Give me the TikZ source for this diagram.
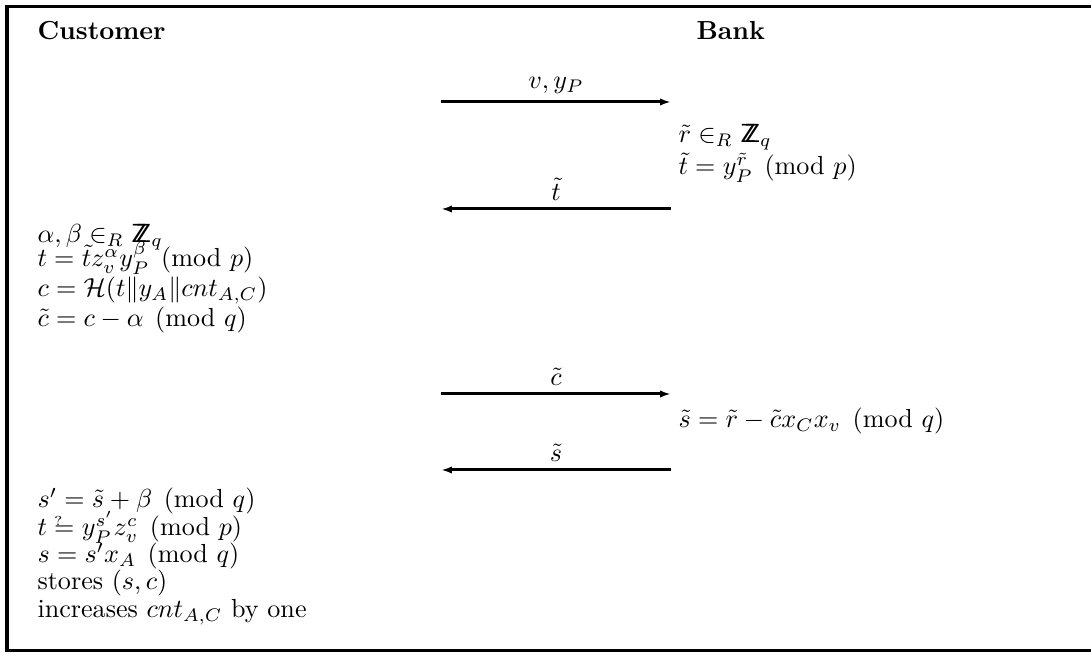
\documentclass[tikz,border=0pt]{standalone}
\usepackage{amsmath}
\usetikzlibrary{arrows.meta}
\newcommand{\ZZq}{\mbox{\sffamily Z\kern-0.45em Z}}
\newcommand{\qeq}{\mathrel{\mbox{\ooalign{$=$\cr\raisebox{3.9pt}{$\scriptscriptstyle ?$}\cr}}}}
\begin{document}
\begin{tikzpicture}[x=0.383pt,y=-0.383pt,
  txt/.style={anchor=base west,inner sep=0pt},
  msg/.style={line width=1.15pt,-{Latex[length=4.2pt,width=2.8pt]}},
  lbl/.style={above,inner sep=2.8pt}]
\useasboundingbox (0,0) rectangle (1091,661);
\clip (0,0) rectangle (1091,661);
\draw[line width=1.15pt] (7,7) rectangle (1110,651);
% headers
\node[txt] (cust) at (37,40) {\textbf{Customer}};
\node[txt] (bank) at (696,40) {\textbf{Bank}};
% message endpoints
\coordinate (c1) at (441,102); \coordinate (b1) at (671,102);
\coordinate (c2) at (441,209); \coordinate (b2) at (671,209);
\coordinate (c3) at (441,394); \coordinate (b3) at (671,394);
\coordinate (c4) at (441,470); \coordinate (b4) at (671,470);
\draw[msg] (c1) -- node[lbl] (m1) {$v, y_P$} (b1);
\draw[msg] (b2) -- node[lbl] (m2) {$\tilde{t}$} (c2);
\draw[msg] (c3) -- node[lbl] (m3) {$\tilde{c}$} (b3);
\draw[msg] (b4) -- node[lbl] (m4) {$\tilde{s}$} (c4);
% bank computations
\node[txt] (b5) at (678,143) {$\tilde{r} \in_R \ZZq_q$};
\node[txt] (b6) at (678,175) {$\tilde{t} = y_P^{\tilde{r}} \pmod{p}$};
\node[txt] (b7) at (678,428) {$\tilde{s} = \tilde{r} - \tilde{c} x_C x_v \pmod{q}$};
% customer computations
\node[txt] (u1) at (37,243) {$\alpha, \beta \in_R \ZZq_q$};
\node[txt] (u2) at (37,267) {$t = \tilde{t} z_v^{\alpha} y_P^{\beta} \pmod{p}$};
\node[txt] (u3) at (37,297) {$c = \mathcal{H}(t \| y_A \| cnt_{A,C})$};
\node[txt] (u4) at (37,327) {$\tilde{c} = c - \alpha \pmod{q}$};
\node[txt] (u5) at (37,508) {$s' = \tilde{s} + \beta \pmod{q}$};
\node[txt] (u6) at (37,536) {$t \qeq y_P^{s'} z_v^{c} \pmod{p}$};
\node[txt] (u7) at (37,563) {$s = s' x_A \pmod{q}$};
\node[txt] (u8) at (37,590) {stores $(s, c)$};
\node[txt] (u9) at (37,618) {increases $cnt_{A,C}$ by one};
\end{tikzpicture}
\end{document}
